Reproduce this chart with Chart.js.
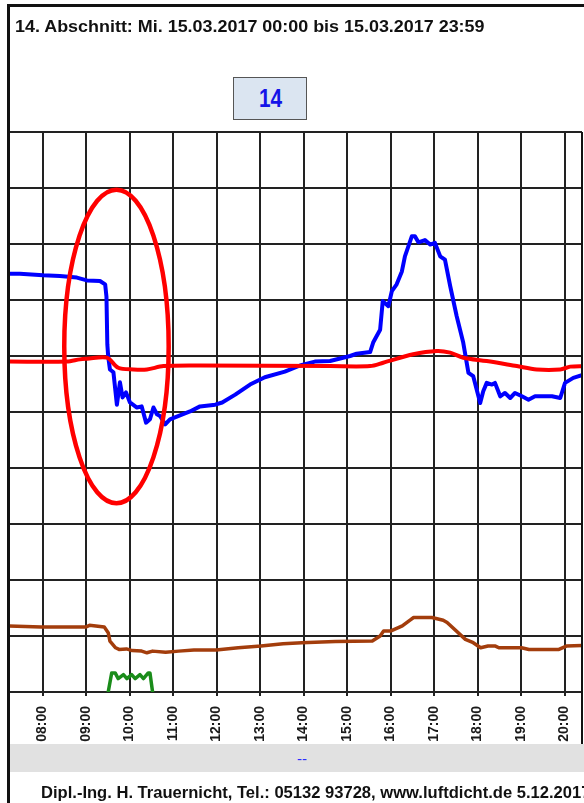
<!DOCTYPE html>
<html>
<head>
<meta charset="utf-8">
<script src="https://cdn.jsdelivr.net/npm/chart.js@4.4.1/dist/chart.umd.min.js"></script>
<style>
  html, body { margin: 0; padding: 0; background: #fff; }
  #wrap { position: relative; width: 584px; height: 803px; overflow: hidden; background: #fff;
          font-family: "Liberation Sans", Arial, sans-serif; }
  #chart { position: absolute; left: 0; top: 0; }
  .line { position: absolute; background: #111; }
  #title { position: absolute; left: 15px; top: 19px; font-size: 16px; line-height: 16px; font-weight: bold;
           color: #111; white-space: nowrap; transform: scaleX(1.12); transform-origin: left top; }
  #badge { position: absolute; left: 233px; top: 77px; width: 72px; height: 41px; background: #dbe5f1;
           border: 1.5px solid #555; text-align: center; }
  #badge span { display: inline-block; font-size: 26px; line-height: 41px; font-weight: bold; color: #1414e8;
                transform: scaleX(0.8); }
  #band { position: absolute; left: 10px; top: 744px; width: 574px; height: 28px; background: #e1e1e1; }
  #band span { position: absolute; left: 287px; top: 6px; font-size: 15px; color: #2b2bff; }
  #footer { position: absolute; left: 41px; top: 785px; font-size: 16px; line-height: 16px; font-weight: bold;
            color: #111; white-space: nowrap; transform: scaleX(1.035); transform-origin: left top; }
</style>
</head>
<body>
<div id="wrap">
  <canvas id="chart" width="584" height="803"></canvas>
  <div id="band"><span>--</span></div>
  <div class="line" style="left:7px; top:4px; width:577px; height:3px;"></div>
  <div class="line" style="left:7px; top:4px; width:3px; height:799px;"></div>
  <div class="line" style="left:581px; top:132px; width:2px; height:612px;"></div>
  <div id="title">14. Abschnitt: Mi. 15.03.2017 00:00 bis 15.03.2017 23:59</div>
  <div id="badge"><span>14</span></div>
  <div id="footer">Dipl.-Ing. H. Trauernicht, Tel.: 05132 93728, www.luftdicht.de 5.12.2017</div>
</div>
<script>
// x in hours of the day, y in grid units (0 = bottom axis, 10 = top line)
const tickHours = [8, 9, 10, 11, 12, 13, 14, 15, 16, 17, 18, 19, 20];
const tickLabels = ['08:00', '09:00', '10:00', '11:00', '12:00', '13:00', '14:00',
                    '15:00', '16:00', '17:00', '18:00', '19:00', '20:00'];
const gridLevels = [0, 1, 2, 3, 4, 5, 6, 7, 8, 9, 10];

const blueHours = [7.23, 7.48, 8.01, 8.40, 8.79, 9.02, 9.32, 9.44, 9.47, 9.49, 9.51, 9.55, 9.63, 9.71, 9.78,
  9.84, 9.92, 10.01, 10.17, 10.28, 10.38, 10.47, 10.55, 10.63, 10.70, 10.82, 10.93, 11.16, 11.39, 11.62,
  11.97, 12.13, 12.43, 12.77, 13.11, 13.57, 13.92, 14.26, 14.61, 15.07, 15.22, 15.53, 15.60, 15.76, 15.82,
  15.95, 16.03, 16.14, 16.26, 16.33, 16.49, 16.56, 16.64, 16.79, 16.91, 17.02, 17.14, 17.25, 17.37, 17.52,
  17.67, 17.79, 17.90, 18.06, 18.13, 18.21, 18.33, 18.40, 18.52, 18.63, 18.75, 18.86, 19.02, 19.17, 19.32,
  19.51, 19.71, 19.90, 20.01, 20.20, 20.45];
const blueValues = [7.47, 7.47, 7.44, 7.43, 7.40, 7.35, 7.34, 7.28, 7.06, 6.21, 5.99, 5.76, 5.71, 5.13, 5.53,
  5.26, 5.35, 5.17, 5.08, 5.10, 4.81, 4.87, 5.08, 4.96, 4.93, 4.78, 4.87, 4.94, 5.01, 5.10,
  5.13, 5.17, 5.31, 5.49, 5.62, 5.72, 5.83, 5.90, 5.91, 6.00, 6.04, 6.07, 6.24, 6.47, 6.98,
  6.89, 7.16, 7.28, 7.51, 7.78, 8.14, 8.14, 8.03, 8.07, 7.99, 8.02, 7.78, 7.72, 7.25, 6.71,
  6.24, 5.70, 5.64, 5.16, 5.37, 5.52, 5.49, 5.52, 5.28, 5.34, 5.25, 5.34, 5.28, 5.22, 5.28,
  5.28, 5.28, 5.25, 5.52, 5.61, 5.67];

const redHours = [7.23, 8.56, 8.86, 9.02, 9.48, 9.74, 10.09, 10.40, 10.78, 11.62, 14.61, 15.53, 15.83, 16.52,
  17.06, 17.37, 17.67, 18.21, 18.90, 19.36, 19.90, 20.13, 20.45];
const redValues = [5.90, 5.90, 5.94, 5.95, 5.97, 5.79, 5.76, 5.76, 5.82, 5.83, 5.82, 5.82, 5.88, 6.03,
  6.09, 6.06, 5.97, 5.91, 5.82, 5.76, 5.76, 5.81, 5.82];

const brownHours = [7.23, 7.97, 8.99, 9.08, 9.42, 9.51, 9.55, 9.68, 9.76, 9.93, 10.06, 10.28, 10.40, 10.53,
  10.83, 11.13, 11.48, 11.99, 12.50, 13.02, 13.53, 13.96, 14.73, 15.58, 15.76, 15.84, 16.01, 16.27, 16.44,
  16.53, 16.95, 17.21, 17.30, 17.72, 17.90, 18.07, 18.24, 18.41, 18.49, 19.01, 19.18, 19.87, 20.04, 20.45];
const brownValues = [1.18, 1.16, 1.16, 1.19, 1.16, 1.06, 0.91, 0.79, 0.76, 0.77, 0.74, 0.73, 0.70, 0.73,
  0.71, 0.73, 0.75, 0.75, 0.79, 0.82, 0.86, 0.88, 0.90, 0.91, 1.00, 1.09, 1.09, 1.18, 1.28,
  1.33, 1.33, 1.28, 1.24, 0.94, 0.88, 0.79, 0.82, 0.82, 0.79, 0.79, 0.76, 0.76, 0.82, 0.83];

const greenHours = [9.51, 9.59, 9.67, 9.74, 9.86, 9.94, 10.05, 10.13, 10.24, 10.32, 10.43, 10.47, 10.53];
const greenValues = [0, 0.34, 0.34, 0.24, 0.31, 0.24, 0.31, 0.24, 0.31, 0.24, 0.34, 0.34, 0];

// visible window of the day and the hand-drawn marking ellipse (data units)
const xMin = 7.23, xMax = 20.40;
const markHour = 9.70, markValue = 6.17, markHalfHours = 1.20, markHalfValue = 2.80;

function toPoints(xs, ys) {
  return xs.map((x, i) => ({ x: x, y: ys[i] }));
}

const ellipsePlugin = {
  id: 'markEllipse',
  afterDatasetsDraw(chart) {
    const ctx = chart.ctx, x = chart.scales.x, y = chart.scales.y;
    const cx = x.getPixelForValue(markHour);
    const cy = y.getPixelForValue(markValue);
    const rx = x.getPixelForValue(markHour + markHalfHours) - cx;
    const ry = cy - y.getPixelForValue(markValue + markHalfValue);
    ctx.save();
    ctx.beginPath();
    ctx.ellipse(cx, cy, rx, ry, 0, 0, Math.PI * 2);
    ctx.lineWidth = 4.5;
    ctx.strokeStyle = '#ff0000';
    ctx.stroke();
    ctx.restore();
  }
};

const data = {
  datasets: [
    { label: 'rot', data: toPoints(redHours, redValues), borderColor: '#ff0000', borderWidth: 4, tension: 0.3 },
    { label: 'blau', data: toPoints(blueHours, blueValues), borderColor: '#0000ff', borderWidth: 4 },
    { label: 'braun', data: toPoints(brownHours, brownValues), borderColor: '#a33d0c', borderWidth: 3.5 },
    { label: 'gruen', data: toPoints(greenHours, greenValues), borderColor: '#1a8c1a', borderWidth: 3.5 }
  ]
};

const config = {
  type: 'line',
  data: data,
  options: {
    responsive: false,
    animation: false,
    layout: { padding: { left: 9, right: 2, top: 132, bottom: 61 } },
    plugins: { legend: { display: false }, tooltip: { enabled: false } },
    elements: {
      point: { radius: 0 },
      line: { borderJoinStyle: 'round', borderCapStyle: 'round', fill: false }
    },
    scales: {
      x: {
        type: 'linear', min: xMin, max: xMax,
        afterBuildTicks: (s) => { s.ticks = tickHours.map(v => ({ value: v })); },
        afterFit: (s) => { s.height = 50; s.paddingLeft = 0; s.paddingRight = 0; },
        grid: { color: '#222', lineWidth: 2, tickLength: 4 },
        border: { color: '#222', width: 2 },
        ticks: {
          autoSkip: false, maxRotation: 90, minRotation: 90, padding: 10, color: '#1a1a1a',
          font: { family: '"Liberation Sans", Arial, sans-serif', size: 14, weight: 'bold' },
          callback: (v, i) => tickLabels[i]
        }
      },
      y: {
        min: 0, max: 10,
        afterBuildTicks: (s) => { s.ticks = gridLevels.map(v => ({ value: v })); },
        afterFit: (s) => { s.width = 0; },
        grid: { color: '#222', lineWidth: 2, drawTicks: false },
        border: { display: false },
        ticks: { display: false }
      }
    }
  },
  plugins: [ellipsePlugin]
};

const myChart = new Chart(document.getElementById('chart'), config);
</script>
</body>
</html>
